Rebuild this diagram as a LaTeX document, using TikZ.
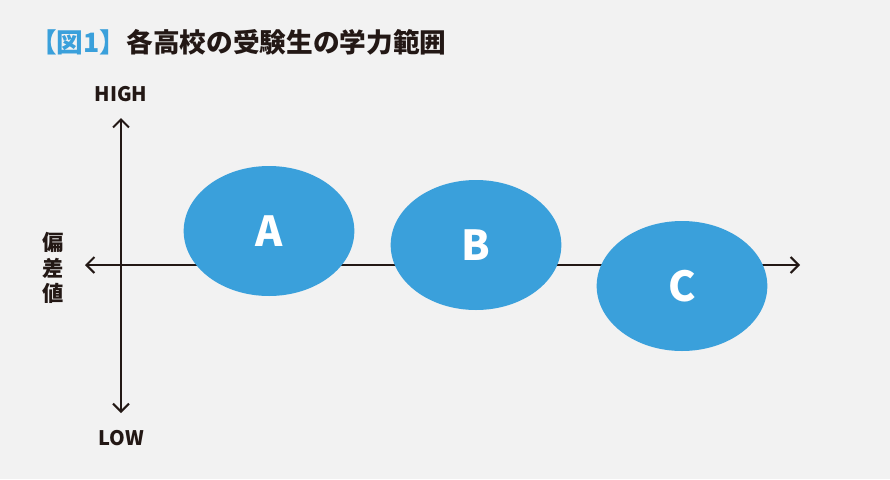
\documentclass[tikz,border=0pt]{standalone}
\usepackage{fontspec}
\newfontfamily\jp{Noto Sans CJK JP}
\usetikzlibrary{arrows.meta,shapes.geometric}
\definecolor{bg}{HTML}{F2F2F2}
\definecolor{blu}{HTML}{3AA0DB}
\definecolor{ink}{HTML}{231815}
\begin{document}
\begin{tikzpicture}[x=0.75pt,y=-0.75pt,
  blob/.style={ellipse,fill=blu,minimum width=128pt,minimum height=97.5pt,inner sep=0,text=white,font=\fontsize{31}{31}\bfseries\jp},
  ax/.style={draw=ink,line width=1.5pt,{Straight Barb[length=6pt,width=12pt,line width=1.5pt]}-{Straight Barb[length=6pt,width=12pt,line width=1.5pt]}},
  lab/.style={text=ink,font=\fontsize{15}{15}\bfseries\jp,inner sep=0}]
\fill[bg] (0,0) rectangle (890,479);
\node[anchor=west,inner sep=0,font=\fontsize{20}{20}\bfseries\jp] (title) at (30,42) {\textcolor{blu}{【図1】}\textcolor{ink}{各高校の受験生の学力範囲}};
\coordinate (top) at (121,118);
\coordinate (bot) at (121,413);
\coordinate (lft) at (85,265);
\coordinate (rgt) at (800,265);
\draw[ax] (top) -- (bot);
\draw[ax] (lft) -- (rgt);
\node[lab] (high) at (121,94) {HIGH};
\node[lab] (low) at (121,438) {LOW};
\node[lab,align=center,font=\fontsize{16}{19}\bfseries\jp] (dev) at (53,268) {偏\\差\\値};
\node[blob] (a) at (269,231) {A};
\node[blob] (b) at (476,245) {B};
\node[blob] (c) at (682,286) {C};
\end{tikzpicture}
\end{document}
